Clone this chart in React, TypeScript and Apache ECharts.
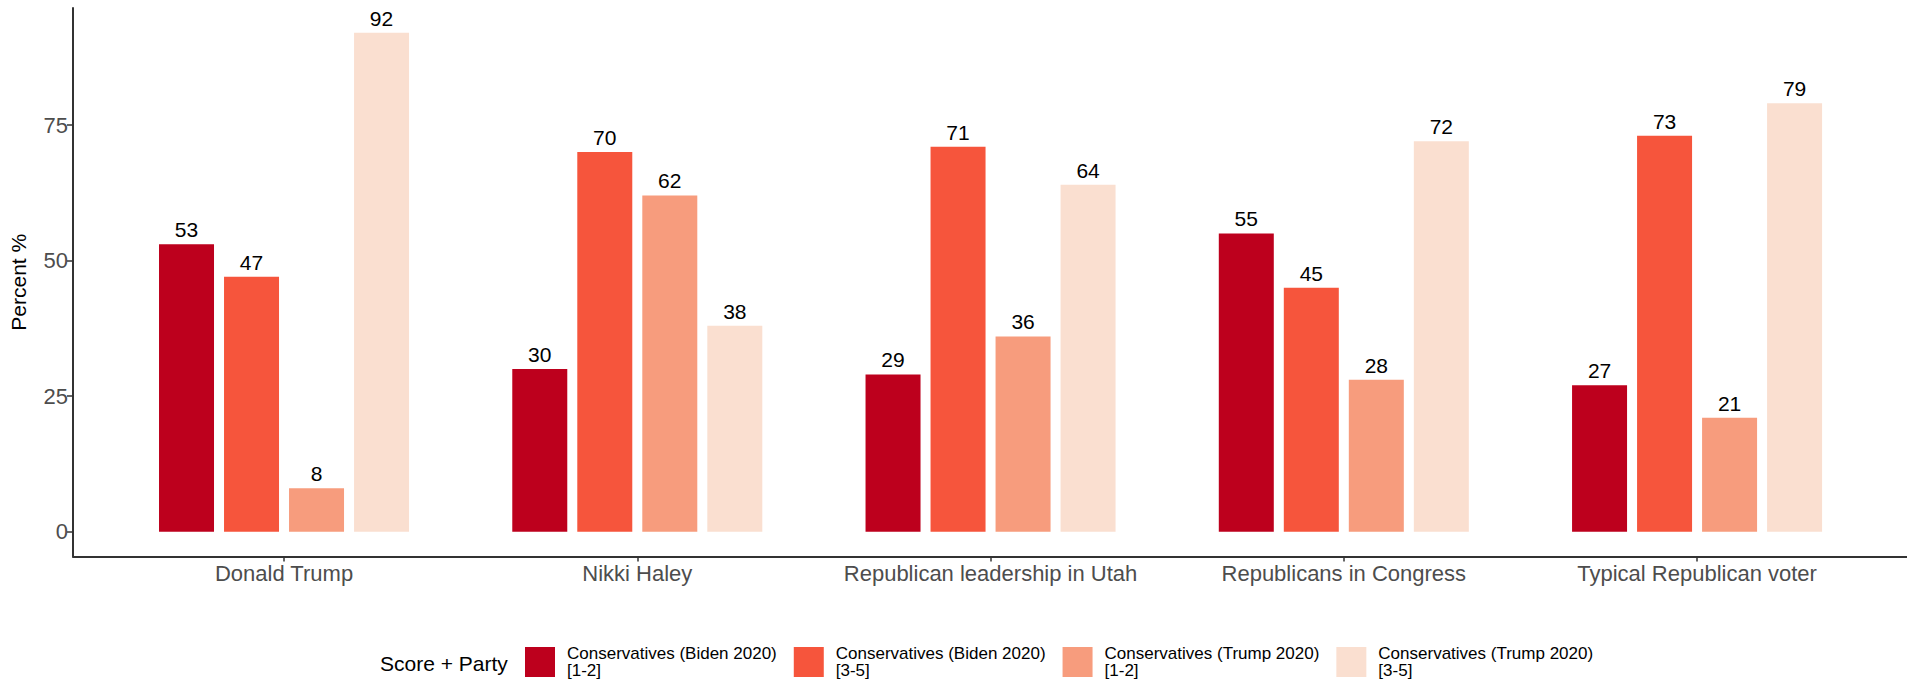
import React, { useEffect, useRef } from "react";
import * as echarts from "echarts";

const categories = [
  "Donald Trump",
  "Nikki Haley",
  "Republican leadership in Utah",
  "Republicans in Congress",
  "Typical Republican voter",
];

const seriesNames = [
  "Conservatives (Biden 2020)\n[1-2]",
  "Conservatives (Biden 2020)\n[3-5]",
  "Conservatives (Trump 2020)\n[1-2]",
  "Conservatives (Trump 2020)\n[3-5]",
];

const bidenLow = [53, 30, 29, 55, 27];
const bidenHigh = [47, 70, 71, 45, 73];
const trumpLow = [8, 62, 36, 28, 21];
const trumpHigh = [92, 38, 64, 72, 79];

const yTicks = [0, 25, 50, 75];

const colors = ["#BD001D", "#F6553C", "#F79C7D", "#FADFD0"];

const FONT = "'Liberation Sans', Arial, Helvetica, sans-serif";

export default function App() {
  const ref = useRef<HTMLDivElement>(null);

  useEffect(() => {
    document.body.style.margin = "0";
    const chart = echarts.init(ref.current!, null, { renderer: "svg" });
    const values = [bidenLow, bidenHigh, trumpLow, trumpHigh];
    const yMin = -4.6;
    const yMax = 96.6;
    const top = 7.9;
    const bottom = 127.4;

    chart.setOption({
      animation: false,
      textStyle: { fontFamily: FONT },
      title: {
        text: "Score + Party",
        left: 380,
        top: 653,
        padding: 0,
        textStyle: { fontSize: 21, fontWeight: "normal", color: "#000", fontFamily: FONT },
      },
      legend: {
        left: 525,
        top: 645,
        padding: 0,
        itemWidth: 30,
        itemHeight: 30,
        itemGap: 17,
        icon: "rect",
        selectedMode: false,
        data: seriesNames,
        textStyle: {
          fontSize: 17,
          lineHeight: 17,
          color: "#000",
          fontFamily: FONT,
          padding: [0, 0, 0, 7],
        },
      },
      grid: [
        { left: 72.5, right: 0, top, bottom },
        { left: 107.4, right: 33.3, top, bottom },
      ],
      xAxis: [
        {
          type: "value",
          gridIndex: 0,
          min: 0,
          max: 1,
          axisLine: { show: true, onZero: false, lineStyle: { color: "#333", width: 2 } },
          axisTick: { show: false },
          axisLabel: { show: false },
          splitLine: { show: false },
        },
        {
          type: "category",
          gridIndex: 1,
          data: categories,
          axisLine: { show: false, onZero: false },
          axisTick: {
            show: true,
            alignWithLabel: true,
            interval: 0,
            length: 5,
            lineStyle: { color: "#333", width: 1.5 },
          },
          axisLabel: {
            interval: 0,
            fontSize: 22,
            color: "#4D4D4D",
            margin: 6,
            fontFamily: FONT,
          },
          splitLine: { show: false },
        },
      ],
      yAxis: [
        {
          type: "value",
          gridIndex: 0,
          min: yMin,
          max: yMax,
          name: "Percent %",
          nameLocation: "middle",
          nameGap: 44,
          nameTextStyle: { fontSize: 21, color: "#000", fontFamily: FONT },
          axisLine: { show: true, onZero: false, lineStyle: { color: "#333", width: 2 } },
          axisTick: {
            show: true,
            length: 6,
            customValues: yTicks,
            lineStyle: { color: "#333", width: 1.5 },
          },
          axisLabel: {
            fontSize: 22,
            color: "#4D4D4D",
            margin: 5,
            customValues: yTicks,
            fontFamily: FONT,
          },
          splitLine: { show: false },
        },
        {
          type: "value",
          gridIndex: 1,
          min: yMin,
          max: yMax,
          show: false,
          splitLine: { show: false },
        },
      ],
      series: seriesNames.map((name, i) => ({
        name,
        type: "bar",
        xAxisIndex: 1,
        yAxisIndex: 1,
        data: values[i],
        barWidth: 55,
        barGap: "18.2%",
        itemStyle: { color: colors[i] },
        label: {
          show: true,
          position: "top",
          distance: 4,
          fontSize: 21,
          color: "#000",
          fontFamily: FONT,
        },
      })),
    });

    return () => chart.dispose();
  }, []);

  return <div ref={ref} style={{ width: 1907, height: 684 }} />;
}
